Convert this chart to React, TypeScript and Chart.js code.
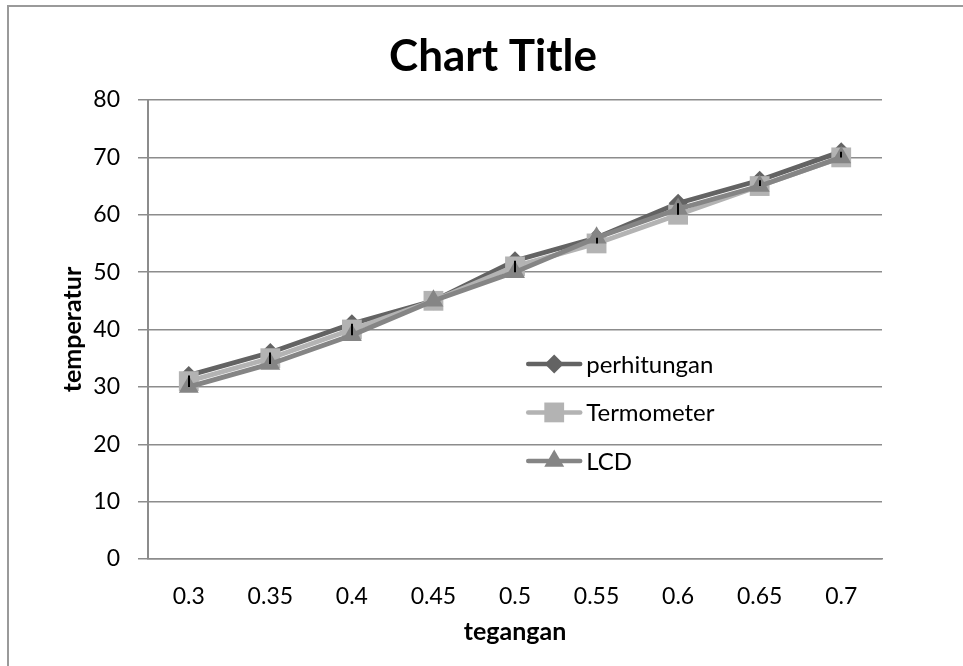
import React, { useEffect, useRef } from "react";
import { Chart, registerables } from "chart.js";
import { drawPoint } from "chart.js/helpers";

Chart.register(...registerables);

const categories = ["0.3", "0.35", "0.4", "0.45", "0.5", "0.55", "0.6", "0.65", "0.7"];
const perhitungan = [32, 36, 41, 45, 52, 56, 62, 66, 71];
const termometer = [31, 35, 40, 45, 51, 55, 60, 65, 70];
const lcd = [30, 34, 39, 45, 50, 56, 61, 65, 70];
const seriesNames = ["perhitungan", "Termometer", "LCD"];
const yTicks = { min: 0, max: 80, step: 10 };
const chartTitle = "Chart Title";

const FONT = "Lato, 'Open Sans', sans-serif";
const COLORS = ["#636363", "#b3b3b3", "#858585"];
const GRID = "#8c8c8c";

const highLowPlugin = {
  id: "highLow",
  afterDatasetsDraw(chart: any) {
    const { ctx } = chart;
    const xs = chart.scales.x;
    const ys = chart.scales.y;
    const sets = chart.data.datasets;
    ctx.save();
    ctx.strokeStyle = "#000";
    ctx.lineWidth = 2;
    for (let i = 0; i < categories.length; i++) {
      const vals = sets.map((d: any) => d.data[i]);
      const hi = Math.max(...vals);
      const lo = Math.min(...vals);
      if (hi === lo) continue;
      const x = Math.round(xs.getPixelForValue(i));
      ctx.beginPath();
      ctx.moveTo(x, ys.getPixelForValue(hi));
      ctx.lineTo(x, ys.getPixelForValue(lo));
      ctx.stroke();
    }
    ctx.restore();
  },
};

const titlePlugin = {
  id: "boxTitle",
  afterDraw(chart: any) {
    const { ctx } = chart;
    ctx.save();
    ctx.font = "bold 44px " + FONT;
    ctx.fillStyle = "#000";
    ctx.textAlign = "center";
    ctx.textBaseline = "middle";
    ctx.fillText(chartTitle, 493, 57);
    ctx.restore();
  },
};

const legendPlugin = {
  id: "insideLegend",
  afterDraw(chart: any) {
    const { ctx, chartArea } = chart;
    const sets = chart.data.datasets;
    const x0 = chartArea.left + (chartArea.right - chartArea.left) * 0.518;
    const yStart = chartArea.top + (chartArea.bottom - chartArea.top) * 0.575;
    const rowGap = 48.5;
    ctx.save();
    ctx.font = "24px " + FONT;
    ctx.textBaseline = "middle";
    ctx.textAlign = "left";
    sets.forEach((d: any, i: number) => {
      const y = yStart + i * rowGap;
      ctx.strokeStyle = d.borderColor;
      ctx.lineWidth = 4.5;
      ctx.lineCap = "round";
      ctx.beginPath();
      ctx.moveTo(x0, y);
      ctx.lineTo(x0 + 52, y);
      ctx.stroke();
      ctx.fillStyle = d.pointBackgroundColor;
      ctx.strokeStyle = d.pointBackgroundColor;
      ctx.lineWidth = 0;
      drawPoint(ctx, { pointStyle: d.pointStyle, radius: d.pointRadius, rotation: 0, borderWidth: 0 }, x0 + 26, y);
      ctx.fillStyle = "#000";
      ctx.fillText(d.label, x0 + 58, y + 1);
    });
    ctx.restore();
  },
};

export default function App() {
  const ref = useRef<HTMLCanvasElement>(null);
  useEffect(() => {
    const canvas = ref.current;
    if (!canvas) return;
    const mk = (label: string, data: number[], color: string, style: string, r: number, order: number) => ({
      label,
      data,
      borderColor: color,
      backgroundColor: color,
      pointBackgroundColor: color,
      pointBorderColor: color,
      pointBorderWidth: 0,
      pointStyle: style,
      pointRadius: r,
      pointHoverRadius: r,
      borderWidth: 4.8,
      tension: 0,
      order,
    });
    const chart = new Chart(canvas, {
      type: "line",
      data: {
        labels: categories,
        datasets: [
          mk(seriesNames[0], perhitungan, COLORS[0], "rectRot", 9.5, 2),
          mk(seriesNames[1], termometer, COLORS[1], "rect", 14, 1),
          mk(seriesNames[2], lcd, COLORS[2], "triangle", 11.5, 0),
        ],
      },
      options: {
        responsive: false,
        animation: false,
        layout: { padding: { left: 58, right: 81, top: 100, bottom: 0 } },
        plugins: {
          legend: { display: false },
          tooltip: { enabled: false },
          title: { display: false },
        },
        scales: {
          x: {
            offset: true,
            grid: { display: false, drawTicks: false },
            border: { display: true, color: GRID, width: 1.5 },
            ticks: { color: "#000", font: { family: FONT, size: 23 }, padding: 24, maxRotation: 0 },
            title: {
              display: true,
              text: "tegangan",
              color: "#000",
              font: { family: FONT, size: 25, weight: "bold" },
              padding: { top: 0, bottom: 19 },
            },
            afterFit(scale: any) {
              scale.height = 107;
            },
          },
          y: {
            min: yTicks.min,
            max: yTicks.max,
            ticks: { stepSize: yTicks.step, color: "#000", font: { family: FONT, size: 23 }, padding: 18 },
            grid: { color: GRID, lineWidth: 1.5, tickLength: 10, drawTicks: true },
            border: { display: true, color: GRID, width: 2 },
            title: {
              display: true,
              text: "temperatur",
              color: "#000",
              font: { family: FONT, size: 25, weight: "bold" },
              padding: { top: 0, bottom: 0 },
            },
            afterFit(scale: any) {
              scale.width = 90;
            },
          },
        },
      },
      plugins: [highLowPlugin, legendPlugin, titlePlugin],
    } as any);
    return () => chart.destroy();
  }, []);

  return (
    <div style={{ position: "fixed", left: 0, top: 0, width: 963, height: 666, overflow: "hidden", background: "#fff" }}>
      <div
        style={{
          position: "absolute",
          left: 7,
          top: 5,
          width: 1000,
          height: 800,
          border: "2px solid #9a9a9a",
          boxSizing: "border-box",
        }}
      />
      <canvas ref={ref} width={963} height={666} style={{ position: "absolute", left: 0, top: 0, width: 963, height: 666 }} />
    </div>
  );
}
